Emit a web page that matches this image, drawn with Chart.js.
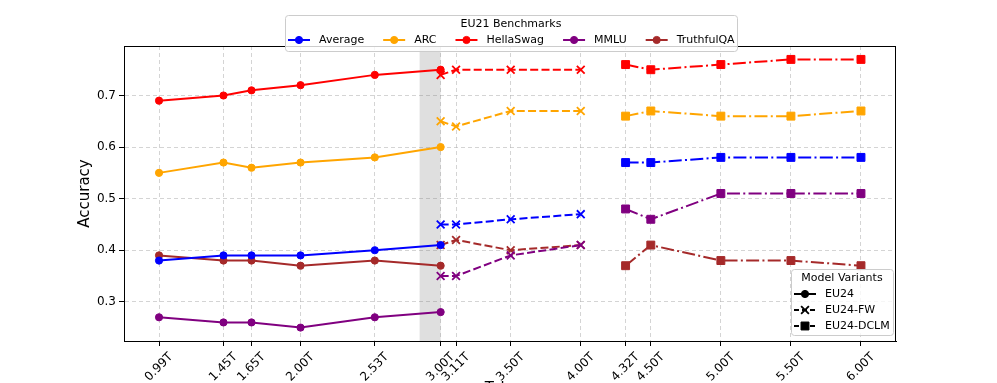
<!DOCTYPE html>
<html>
<head>
<meta charset="utf-8">
<script src="https://cdn.jsdelivr.net/npm/chart.js@4.4.1/dist/chart.umd.min.js"></script>
<style>
  html, body { margin: 0; padding: 0; background: #fff; }
  #wrap { width: 997px; height: 383px; }
</style>
</head>
<body>
<div id="wrap"><canvas id="chart" width="997" height="383"></canvas></div>
<script>
// benchmarks (one colour each)
const benchmarks = ['Average', 'ARC', 'HellaSwag', 'MMLU', 'TruthfulQA'];
const benchColors = ['#0000ff', '#ffa500', '#ff0000', '#800080', '#a52a2a'];

// model variants
const variants = ['EU24', 'EU24-FW', 'EU24-DCLM'];

// token counts (T) per variant
const eu24Tokens = [0.99, 1.45, 1.65, 2.00, 2.53, 3.00];
const fwTokens = [3.00, 3.11, 3.50, 4.00];
const dclmTokens = [4.32, 4.50, 5.00, 5.50, 6.00];

// scores, rows in benchmark order: Average, ARC, HellaSwag, MMLU, TruthfulQA
const eu24Scores = [
  [0.38, 0.39, 0.39, 0.39, 0.40, 0.41],
  [0.55, 0.57, 0.56, 0.57, 0.58, 0.60],
  [0.69, 0.70, 0.71, 0.72, 0.74, 0.75],
  [0.27, 0.26, 0.26, 0.25, 0.27, 0.28],
  [0.39, 0.38, 0.38, 0.37, 0.38, 0.37]
];
const fwScores = [
  [0.45, 0.45, 0.46, 0.47],
  [0.65, 0.64, 0.67, 0.67],
  [0.74, 0.75, 0.75, 0.75],
  [0.35, 0.35, 0.39, 0.41],
  [0.41, 0.42, 0.40, 0.41]
];
const dclmScores = [
  [0.57, 0.57, 0.58, 0.58, 0.58],
  [0.66, 0.67, 0.66, 0.66, 0.67],
  [0.76, 0.75, 0.76, 0.77, 0.77],
  [0.48, 0.46, 0.51, 0.51, 0.51],
  [0.37, 0.41, 0.38, 0.38, 0.37]
];

// axis ticks
const xTickValues = [0.99, 1.45, 1.65, 2.00, 2.53, 3.00, 3.11, 3.50, 4.00, 4.32, 4.50, 5.00, 5.50, 6.00];
const yTickValues = [0.3, 0.4, 0.5, 0.6, 0.7];

// shaded span
const shadeRange = [2.85, 3.00];

const FONT = "'DejaVu Sans', sans-serif";

const variantStyles = [
  { dash: [], point: 'circle', radius: 3.6, bw: 1 },
  { dash: [8, 3.3], point: 'crossRot', radius: 5.5, bw: 1.8 },
  { dash: [13, 3.3, 2, 3.3], point: 'rect', radius: 5.6, bw: 1 }
];

const variantTokens = [eu24Tokens, fwTokens, dclmTokens];
const variantScores = [eu24Scores, fwScores, dclmScores];

const datasets = [];
variants.forEach((v, vi) => {
  const st = variantStyles[vi];
  benchmarks.forEach((b, bi) => {
    datasets.push({
      label: b + ' ' + v,
      data: variantTokens[vi].map((t, i) => ({ x: t, y: variantScores[vi][bi][i] })),
      borderColor: benchColors[bi],
      backgroundColor: benchColors[bi],
      borderWidth: 2,
      borderDash: st.dash,
      pointStyle: st.point,
      pointRadius: st.radius,
      pointBorderWidth: st.bw,
      pointBackgroundColor: benchColors[bi],
      pointBorderColor: benchColors[bi],
      tension: 0
    });
  });
});

const shadePlugin = {
  id: 'shade',
  beforeDatasetsDraw(chart) {
    const { ctx, chartArea, scales } = chart;
    const x1 = scales.x.getPixelForValue(shadeRange[0]);
    const x2 = scales.x.getPixelForValue(shadeRange[1]);
    ctx.save();
    ctx.fillStyle = 'rgba(128,128,128,0.25)';
    ctx.fillRect(x1, chartArea.top, x2 - x1, chartArea.bottom - chartArea.top);
    ctx.restore();
  }
};

function drawHandle(ctx, x1, x2, y, color, dash, st) {
  ctx.save();
  ctx.strokeStyle = color;
  ctx.lineWidth = 2;
  ctx.setLineDash(dash);
  ctx.beginPath();
  ctx.moveTo(x1, y);
  ctx.lineTo(x2, y);
  ctx.stroke();
  ctx.setLineDash([]);
  ctx.fillStyle = color;
  ctx.lineWidth = st.bw;
  Chart.helpers.drawPoint(ctx, { pointStyle: st.point, radius: st.radius, borderWidth: st.bw, rotation: 0 }, (x1 + x2) / 2, y);
  ctx.restore();
}

function legendBox(ctx, x, y, w, h) {
  ctx.save();
  ctx.beginPath();
  ctx.roundRect(x + 0.5, y + 0.5, w, h, 3);
  ctx.fillStyle = 'rgba(255,255,255,0.8)';
  ctx.fill();
  ctx.strokeStyle = '#cccccc';
  ctx.lineWidth = 1;
  ctx.stroke();
  ctx.restore();
}

const framePlugin = {
  id: 'frame',
  afterDatasetsDraw(chart) {
    const { ctx, chartArea: a } = chart;
    ctx.save();
    ctx.strokeStyle = '#000';
    ctx.lineWidth = 1;
    ctx.strokeRect(a.left + 0.5, a.top + 0.5, a.right - a.left - 1, a.bottom - a.top);
    ctx.restore();
  },
  afterDraw(chart) {
    const ctx = chart.ctx;
    ctx.save();
    ctx.font = '11px ' + FONT;
    ctx.fillStyle = '#000';
    ctx.textBaseline = 'middle';

    // benchmark legend (top)
    legendBox(ctx, 285, 15, 452, 36);
    ctx.textAlign = 'center';
    ctx.fillText('EU21 Benchmarks', 511, 24);
    ctx.textAlign = 'left';
    let x = 288;
    benchmarks.forEach((b, i) => {
      drawHandle(ctx, x, x + 22, 40, benchColors[i], [], variantStyles[0]);
      ctx.fillStyle = '#000';
      ctx.fillText(b, x + 31, 40);
      x += 31 + ctx.measureText(b).width + 19;
    });

    // variant legend (bottom right)
    legendBox(ctx, 791, 269, 102, 66);
    ctx.textAlign = 'center';
    ctx.fillText('Model Variants', 842, 278);
    ctx.textAlign = 'left';
    variants.forEach((v, i) => {
      const y = 294 + i * 16;
      drawHandle(ctx, 794, 816, y, '#000', variantStyles[i].dash.length ? [5, 3] : [], variantStyles[i]);
      ctx.fillStyle = '#000';
      ctx.fillText(v, 825, y);
    });
    ctx.restore();
  }
};

new Chart(document.getElementById('chart'), {
  type: 'line',
  data: { datasets: datasets },
  options: {
    responsive: false,
    animation: false,
    devicePixelRatio: 1,
    layout: { padding: { left: 70, top: 46, right: 101, bottom: 0 } },
    plugins: { legend: { display: false }, tooltip: { enabled: false } },
    scales: {
      x: {
        type: 'linear',
        min: 0.74,
        max: 6.25,
        afterBuildTicks: s => { s.ticks = xTickValues.map(v => ({ value: v })); },
        afterFit: s => { s.height = 42; },
        ticks: {
          autoSkip: false,
          minRotation: 45,
          maxRotation: 45,
          padding: 4,
          labelOffset: 12,
          color: '#000',
          font: { family: FONT, size: 12 },
          callback: v => v.toFixed(2) + 'T'
        },
        grid: { color: 'rgba(176,176,176,0.55)', lineWidth: 1, tickColor: '#000', tickLength: 5, tickBorderDash: [] },
        border: { display: true, color: '#000', width: 1, dash: [4, 3] },
        title: { display: true, text: 'Tokens', color: '#000', font: { family: FONT, size: 15 }, padding: { top: 0, bottom: -15 } }
      },
      y: {
        min: 0.224,
        max: 0.796,
        afterBuildTicks: s => { s.ticks = yTickValues.map(v => ({ value: v })); },
        afterFit: s => { s.width = 54; },
        ticks: {
          padding: 3,
          color: '#000',
          font: { family: FONT, size: 12 },
          callback: v => v.toFixed(1)
        },
        grid: { color: 'rgba(176,176,176,0.55)', lineWidth: 1, tickColor: '#000', tickLength: 5, tickBorderDash: [] },
        border: { display: true, color: '#000', width: 1, dash: [4, 3] },
        title: { display: true, text: 'Accuracy', color: '#000', font: { family: FONT, size: 15 }, padding: { top: 6, bottom: 0 } }
      }
    }
  },
  plugins: [shadePlugin, framePlugin]
});
</script>
</body>
</html>
